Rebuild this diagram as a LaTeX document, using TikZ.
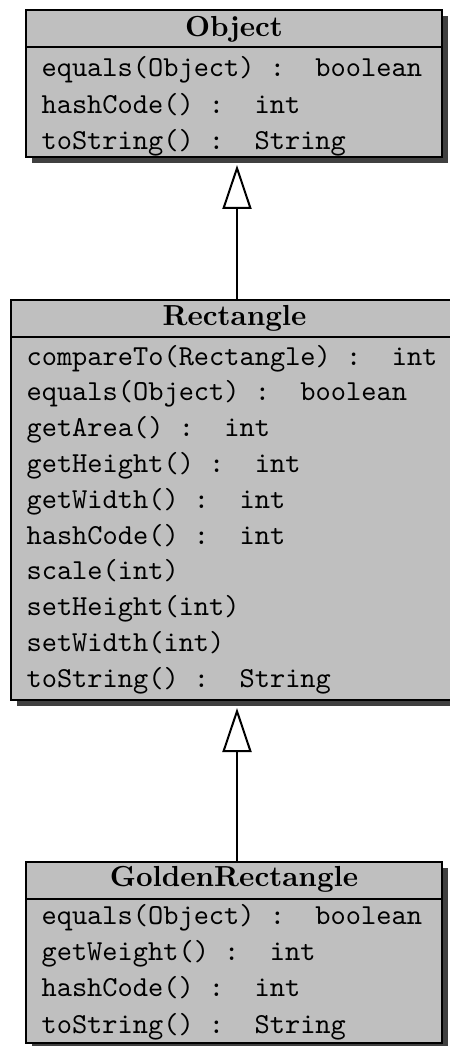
\documentclass[tikz,border=0pt]{standalone}
\usetikzlibrary{arrows.meta,shadows,calc}
\def\pxu{0.345pt}
\tikzset{
  classbox/.style={draw=black, line width=2*\pxu, fill=black!25, inner sep=0pt,
    drop shadow={shadow xshift=6*\pxu, shadow yshift=-6*\pxu, fill=black!75, opacity=1}},
  divider/.style={draw=black, line width=2.6*\pxu},
  method/.style={anchor=base west, inner sep=0pt, font=\ttfamily, yshift=-3*\pxu},
  classtitle/.style={anchor=base, inner sep=0pt, font=\bfseries, yshift=-1*\pxu},
  inherit/.style={draw=black, line width=2*\pxu, -{Triangle[open, length=44*\pxu, width=29*\pxu, line width=2*\pxu]}}
}
\begin{document}
\begin{tikzpicture}[x=\pxu, y=-\pxu]
\useasboundingbox (0,0) rectangle (449,1046);
% Object
\node[classbox, minimum width=416*\pxu, minimum height=147*\pxu] (obj) at (234,83.5) {};
\draw[divider] (obj.west |- 0,47) -- (obj.east |- 0,47);
\node[classtitle] (objt) at (234,36) {Object};
\node[method] (o1) at (41,74) {equals(Object)~:~~boolean};
\node[method] (o2) at (41,110.3) {hashCode()~:~~int};
\node[method] (o3) at (41,146.6) {toString()~:~~String};
% Rectangle
\node[classbox, minimum width=447*\pxu, minimum height=400*\pxu] (rect) at (234.5,500) {};
\draw[divider] (rect.west |- 0,337) -- (rect.east |- 0,337);
\node[classtitle] (rectt) at (234.5,325) {Rectangle};
\node[method] (r1) at (26,362) {compareTo(Rectangle)~:~~int};
\node[method] (r2) at (26,397.8) {equals(Object)~:~~boolean};
\node[method] (r3) at (26,433.6) {getArea()~:~~int};
\node[method] (r4) at (26,469.4) {getHeight()~:~~int};
\node[method] (r5) at (26,505.2) {getWidth()~:~~int};
\node[method] (r6) at (26,541) {hashCode()~:~~int};
\node[method] (r7) at (26,576.8) {scale(int)};
\node[method] (r8) at (26,612.6) {setHeight(int)};
\node[method] (r9) at (26,648.4) {setWidth(int)};
\node[method] (r10) at (26,684.2) {toString()~:~~String};
% GoldenRectangle
\node[classbox, minimum width=416*\pxu, minimum height=181*\pxu] (gold) at (234,952.5) {};
\draw[divider] (gold.west |- 0,899) -- (gold.east |- 0,899);
\node[classtitle] (goldt) at (234,885) {GoldenRectangle};
\node[method] (g1) at (41,921) {equals(Object)~:~~boolean};
\node[method] (g2) at (41,957.3) {getWeight()~:~~int};
\node[method] (g3) at (41,993.6) {hashCode()~:~~int};
\node[method] (g4) at (41,1030) {toString()~:~~String};
% connectors
\coordinate (objtip) at (237,165);
\coordinate (recttip) at (237,708);
\draw[inherit] (rect.north -| objtip) -- (objtip);
\draw[inherit] (gold.north -| recttip) -- (recttip);
\end{tikzpicture}
\end{document}
